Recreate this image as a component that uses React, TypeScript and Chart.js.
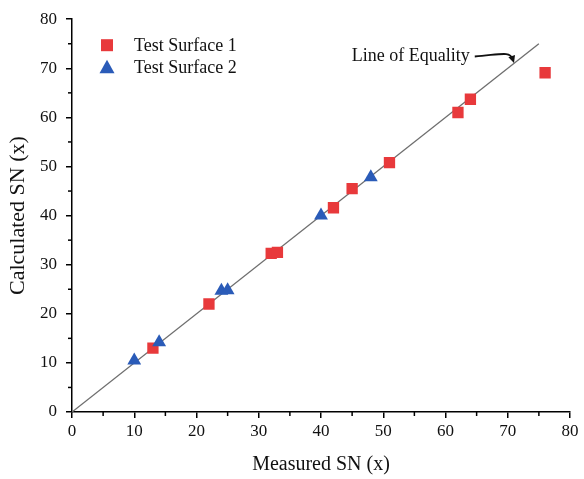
import React, { useEffect, useRef } from 'react';
import { Chart, registerables } from 'chart.js';

Chart.register(...registerables);

const surface1X = [13, 22, 32, 33, 42, 45, 51, 62, 64, 76];
const surface1Y = [13, 22, 32.3, 32.5, 41.6, 45.5, 50.8, 61, 63.7, 69.1];
const surface2X = [10, 14, 24, 25, 40, 48];
const surface2Y = [10.5, 14.2, 24.7, 24.8, 40, 47.8];
const equalityX = [0, 75];
const equalityY = [0, 75];
const minorTicks = [5, 15, 25, 35, 45, 55, 65, 75];
const seriesLabels = ['Test Surface 1', 'Test Surface 2', 'Line of Equality'];
const annotationText = 'Line of Equality';
const annotationTextAnchor = { x: 63.9, y: 72.4 };
const annotationArrowTip = { x: 71, y: 71.1 };

const FONT = '"Liberation Serif", "Times New Roman", serif';
const RED = '#E8393B';
const BLUE = '#2A5BB8';

const extrasPlugin = {
  id: 'extras',
  afterDraw(chart: any) {
    const { ctx, chartArea } = chart;
    const xs = chart.scales.x;
    const ys = chart.scales.y;
    ctx.save();
    // minor ticks
    ctx.strokeStyle = '#000';
    ctx.lineWidth = 1.5;
    minorTicks.forEach((v) => {
      const px = xs.getPixelForValue(v);
      ctx.beginPath();
      ctx.moveTo(px, chartArea.bottom);
      ctx.lineTo(px, chartArea.bottom + 4);
      ctx.stroke();
      const py = ys.getPixelForValue(v);
      ctx.beginPath();
      ctx.moveTo(chartArea.left, py);
      ctx.lineTo(chartArea.left - 4, py);
      ctx.stroke();
    });

    // legend
    const lx = chartArea.left + 35;
    const ly = chartArea.top + 26;
    const rowH = 22;
    ctx.font = `18px ${FONT}`;
    ctx.textBaseline = 'middle';
    ctx.textAlign = 'left';
    chart.data.datasets.slice(0, 2).forEach((ds: any, i: number) => {
      const cy = ly + i * rowH;
      ctx.fillStyle = ds.backgroundColor;
      if (ds.pointStyle === 'rect') {
        ctx.fillRect(lx - 6, cy - 6, 12, 12);
      } else {
        ctx.beginPath();
        ctx.moveTo(lx, cy - 7.5);
        ctx.lineTo(lx + 7.5, cy + 6);
        ctx.lineTo(lx - 7.5, cy + 6);
        ctx.closePath();
        ctx.fill();
      }
      ctx.fillStyle = '#111';
      ctx.fillText(ds.label, lx + 27, cy + 1);
    });

    // annotation
    const tx = xs.getPixelForValue(annotationTextAnchor.x);
    const ty = ys.getPixelForValue(annotationTextAnchor.y);
    ctx.textAlign = 'right';
    ctx.fillStyle = '#111';
    ctx.fillText(annotationText, tx, ty);
    const tipX = xs.getPixelForValue(annotationArrowTip.x);
    const tipY = ys.getPixelForValue(annotationArrowTip.y);
    const sx = tx + 5;
    const sy = ty;
    const c1x = sx + 26, c1y = sy - 2;
    const c2x = tipX - 4, c2y = tipY - 12;
    ctx.strokeStyle = '#111';
    ctx.lineWidth = 1.8;
    ctx.beginPath();
    ctx.moveTo(sx, sy);
    ctx.bezierCurveTo(c1x, c1y, c2x, c2y, tipX - 1.5, tipY - 4);
    ctx.stroke();
    const ang = Math.atan2(tipY - c2y, tipX - c2x);
    const hl = 8;
    ctx.fillStyle = '#111';
    ctx.beginPath();
    ctx.moveTo(tipX, tipY);
    ctx.lineTo(tipX - hl * Math.cos(ang - 0.45), tipY - hl * Math.sin(ang - 0.45));
    ctx.lineTo(tipX - hl * Math.cos(ang + 0.45), tipY - hl * Math.sin(ang + 0.45));
    ctx.closePath();
    ctx.fill();
    ctx.restore();
  },
};

export default function App() {
  const ref = useRef<HTMLCanvasElement | null>(null);
  useEffect(() => {
    if (!ref.current) return;
    const chart = new Chart(ref.current, {
      type: 'scatter',
      data: {
        datasets: [
          {
            label: seriesLabels[0],
            data: surface1X.map((x, i) => ({ x, y: surface1Y[i] })),
            backgroundColor: RED,
            borderColor: RED,
            pointStyle: 'rect',
            pointRadius: 8,
            borderWidth: 0,
            order: 1,
          },
          {
            label: seriesLabels[1],
            data: surface2X.map((x, i) => ({ x, y: surface2Y[i] })),
            backgroundColor: BLUE,
            borderColor: BLUE,
            pointStyle: 'triangle',
            pointRadius: 8,
            borderWidth: 0,
            order: 0,
          },
          {
            type: 'line',
            label: seriesLabels[2],
            data: equalityX.map((x, i) => ({ x, y: equalityY[i] })),
            borderColor: '#6e6e6e',
            backgroundColor: '#6e6e6e',
            borderWidth: 1.3,
            pointRadius: 0,
            showLine: true,
            fill: false,
            order: 2,
          } as any,
        ],
      },
      options: {
        responsive: false,
        animation: false,
        layout: { padding: { top: 14, right: 14, left: 0, bottom: 0 } },
        plugins: {
          legend: { display: false },
          tooltip: { enabled: false },
        },
        scales: {
          x: {
            type: 'linear',
            min: 0,
            max: 80,
            ticks: { stepSize: 10, color: '#111', padding: 3, font: { family: FONT, size: 17 } },
            grid: { drawOnChartArea: false, drawTicks: true, tickLength: 6, color: '#000', lineWidth: 1.5 },
            border: { display: true, color: '#000', width: 1.5 },
            title: {
              display: true,
              text: 'Measured SN (x)',
              color: '#111',
              font: { family: FONT, size: 20 },
              padding: { top: 0, bottom: 2 },
            },
            afterFit: (s: any) => {
              s.height = 67;
            },
          },
          y: {
            type: 'linear',
            min: 0,
            max: 80,
            ticks: { stepSize: 10, color: '#111', padding: 9, font: { family: FONT, size: 17 } },
            grid: { drawOnChartArea: false, drawTicks: true, tickLength: 6, color: '#000', lineWidth: 1.5 },
            border: { display: true, color: '#000', width: 1.5 },
            title: {
              display: true,
              text: 'Calculated SN (x)',
              color: '#111',
              font: { family: FONT, size: 22 },
              padding: { top: 5, bottom: 0 },
            },
            afterFit: (s: any) => {
              s.width = 72;
            },
          },
        },
      },
      plugins: [extrasPlugin],
    } as any);
    return () => chart.destroy();
  }, []);
  return (
    <div style={{ position: 'absolute', left: 0, top: 0, width: 584, height: 479, background: '#fff' }}>
      <canvas ref={ref} width={584} height={479} style={{ display: 'block' }} />
    </div>
  );
}
